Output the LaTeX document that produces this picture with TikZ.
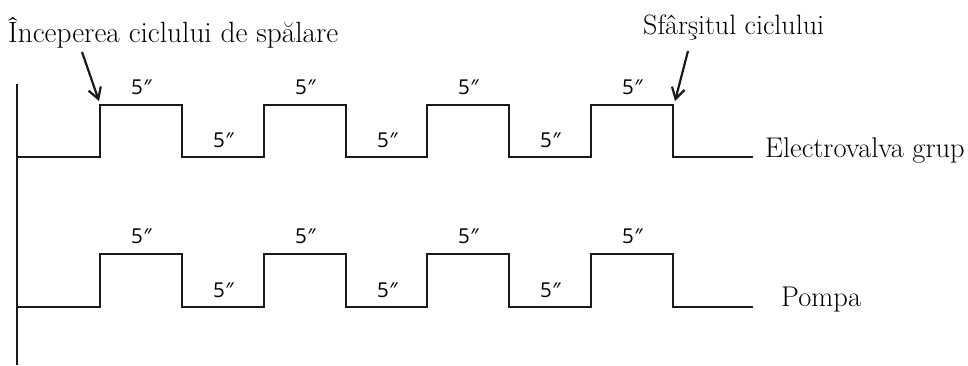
\documentclass[tikz,border=0pt]{standalone}
\usepackage{fontspec}
\newfontfamily\labelsans{Open Sans}
\usetikzlibrary{arrows.meta}
\begin{document}
\begin{tikzpicture}[x=1pt,y=-1pt,
  wave/.style={line width=2.6pt, line join=miter, black!90},
  axisline/.style={line width=1.8pt, black!90},
  pointer/.style={line width=2.2pt, black!90, -{Straight Barb[length=11pt,width=13pt,line width=2.2pt]}},
  dur/.style={font=\labelsans\fontsize{20.5}{24}\selectfont, anchor=base, inner sep=0pt},
  bigtext/.style={font=\fontsize{28.5}{34}\selectfont, anchor=base west, inner sep=0pt},
  titletext/.style={font=\fontsize{29.3}{34}\selectfont, anchor=base west, inner sep=0pt},
  midtext/.style={font=\fontsize{28}{34}\selectfont, anchor=base west, inner sep=0pt}]
\useasboundingbox (0,0) rectangle (968,365);
% axis
\coordinate (axtop) at (17,84);
\coordinate (axbot) at (17,365);
\draw[axisline] (axtop) -- (axbot);
% waveforms
\foreach \lo/\hi/\nm in {157/105/a, 307/254/b} {
  \draw[wave] (17,\lo) -- (100,\lo) -- (100,\hi) -- (182,\hi) -- (182,\lo)
    -- (264,\lo) -- (264,\hi) -- (346,\hi) -- (346,\lo)
    -- (427,\lo) -- (427,\hi) -- (509,\hi) -- (509,\lo)
    -- (591,\lo) -- (591,\hi) -- (673,\hi) -- (673,\lo) -- (753,\lo);
}
% duration labels
\newcommand\durtext{5{\itshape ″}}
\foreach \x [count=\i] in {141,305,468,632} {
  \node[dur] (ha\i) at (\x,94) {\durtext};
  \node[dur] (hb\i) at (\x,243) {\durtext};
}
\foreach \x [count=\i] in {223,387,550} {
  \node[dur] (la\i) at (\x,147) {\durtext};
  \node[dur] (lb\i) at (\x,297) {\durtext};
}
% signal names
\node[bigtext] (ev) at (765,157) {Electrovalva grup};
\node[bigtext] (pompa) at (781,306) {Pompa};
% annotations
\node[titletext] (start) at (8,42) {Începerea ciclului de spălare};
\node[midtext] (end) at (643,34) {Sfârşitul ciclului};
\coordinate (startfrom) at (82,52);
\coordinate (startto) at (99,101);
\coordinate (endfrom) at (688,51);
\coordinate (endto) at (675,101);
\draw[pointer] (startfrom) -- (startto);
\draw[pointer] (endfrom) -- (endto);
\end{tikzpicture}
\end{document}
